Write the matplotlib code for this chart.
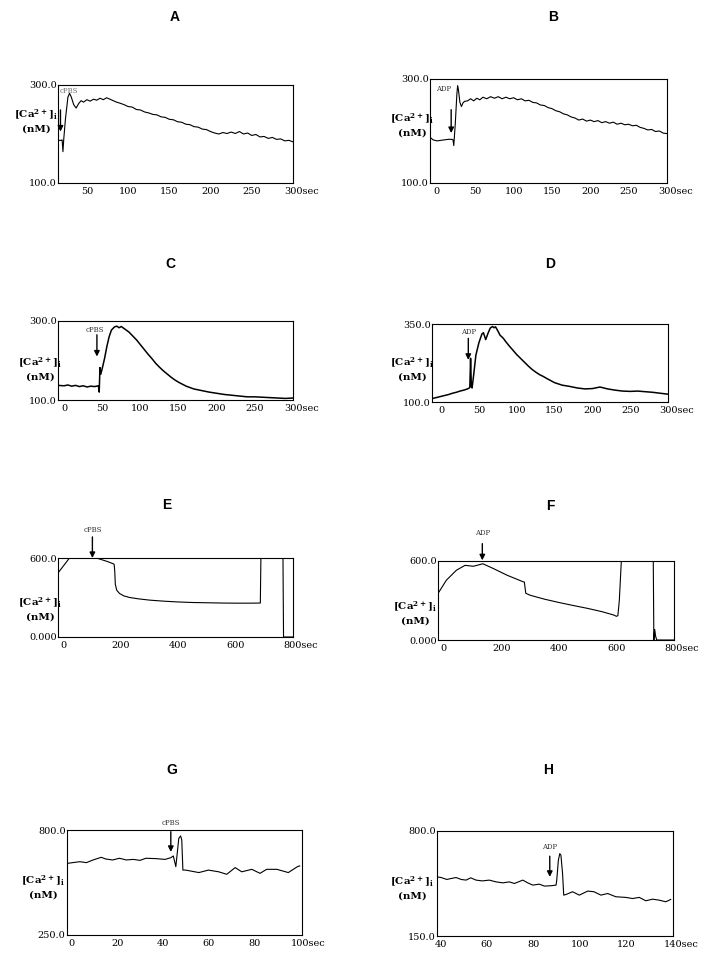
import numpy as np
import matplotlib.pyplot as plt

# datos (tiempo en s, [Ca2+]i en nM)
A_x = [15, 19, 20, 21, 22, 24, 27, 29, 31, 34, 37, 40, 43, 46, 50, 54, 58, 62, 66, 70,
       74, 78, 82, 86, 90, 95, 100, 105, 110, 115, 120, 125, 130, 135, 140, 145, 150, 155,
       160, 165, 170, 175, 180, 185, 190, 195, 200, 205, 210, 215, 220, 225, 230, 235, 240,
       245, 250, 255, 260, 265, 270, 275, 280, 285, 290, 295, 300]
A_y = [187, 187, 188, 164, 190, 230, 275, 283, 276, 260, 253, 262, 268, 265, 270, 267, 271,
       269, 273, 270, 274, 271, 268, 265, 263, 260, 256, 255, 250, 249, 245, 243, 240, 239,
       235, 234, 230, 229, 225, 224, 220, 219, 215, 214, 210, 209, 205, 202, 200, 203, 201,
       204, 201, 205, 200, 202, 197, 199, 194, 195, 191, 193, 189, 190, 186, 187, 184]

B_x = [-9, -5, 0, 5, 10, 15, 19, 21, 22, 24, 26, 27, 28, 30, 32, 34, 36, 40, 44, 48, 52,
       56, 60, 65, 70, 75, 80, 85, 90, 95, 100, 105, 110, 115, 120, 125, 130, 135, 140, 145,
       150, 155, 160, 165, 170, 175, 180, 185, 190, 195, 200, 205, 210, 215, 220, 225, 230,
       235, 240, 245, 250, 255, 260, 265, 270, 275, 280, 285, 290, 295, 300]
B_y = [188, 183, 181, 182, 183, 184, 184, 183, 172, 215, 270, 287, 280, 255, 247, 254, 257,
       258, 262, 258, 263, 260, 265, 262, 266, 263, 266, 262, 265, 262, 264, 260, 262, 258,
       259, 255, 254, 250, 249, 245, 243, 239, 237, 233, 231, 227, 225, 221, 223, 219, 221,
       218, 220, 216, 218, 215, 217, 213, 215, 212, 213, 210, 211, 207, 205, 202, 203, 199,
       200, 196, 195]

C_x = [-8, 0, 5, 10, 15, 20, 25, 30, 35, 40, 45, 46, 47, 48, 50, 53, 56, 59, 62, 66, 69,
       72, 75, 80, 85, 90, 95, 100, 105, 110, 115, 120, 125, 130, 135, 140, 145, 150, 160,
       170, 180, 190, 200, 210, 220, 230, 240, 250, 260, 270, 280, 290, 300]
C_y = [137, 136, 138, 135, 137, 134, 136, 133, 135, 134, 136, 120, 182, 165, 180, 205, 235,
       260, 277, 285, 287, 283, 286, 279, 272, 262, 252, 240, 228, 216, 205, 193, 183, 174,
       166, 158, 151, 145, 135, 128, 124, 120, 117, 114, 112, 110, 108, 108, 107, 106, 105,
       104, 105]

D_x = [-10, -5, 0, 5, 10, 15, 20, 25, 30, 35, 38, 39, 40, 41, 43, 46, 50, 54, 56, 59, 62,
       65, 68, 70, 72, 75, 78, 82, 86, 90, 95, 100, 105, 110, 115, 120, 125, 130, 135, 140,
       150, 160, 170, 180, 190, 200, 210, 220, 230, 240, 250, 260, 270, 280, 290, 300]
D_y = [112, 115, 118, 121, 124, 128, 131, 135, 138, 142, 146, 240, 150, 145, 185, 250, 290,
       318, 322, 300, 320, 337, 342, 338, 341, 328, 314, 305, 292, 280, 266, 252, 240, 228,
       216, 205, 196, 188, 182, 175, 162, 154, 150, 145, 142, 143, 148, 142, 138, 135, 134,
       135, 133, 131, 128, 125]

E_x = [-20, 20, 114, 150, 172, 176, 178, 180, 185, 195, 210, 230, 260, 300, 350, 400, 450,
       500, 550, 600, 650, 686, 688, 690, 760, 765, 767, 780, 800]
E_y = [486, 600, 600, 575, 557, 552, 500, 400, 355, 330, 312, 300, 290, 280, 272, 266, 262,
       260, 258, 257, 257, 258, 600, 600, 600, 600, 0, 0, 0]

F_x = [-20, 9, 44, 74, 103, 136, 173, 220, 276, 280, 285, 300, 350, 400, 450, 500, 550, 590,
       600, 605, 610, 617, 620, 725, 728, 730, 733, 736, 740, 760, 800]
F_y = [353, 454, 530, 567, 560, 579, 542, 492, 442, 440, 355, 340, 310, 285, 262, 240, 215,
       190, 180, 185, 300, 600, 600, 600, 600, 0, 80, 30, 0, 0, 0]

G_x = [-2, 3.6, 6.5, 9.4, 13, 15, 18, 21, 24, 27, 30, 32.6, 37, 41, 43.5, 44.6, 45.7, 47,
       47.8, 48.3, 48.8, 50, 55.8, 60, 64.5, 68, 71.7, 74.6, 79, 82.6, 85.5, 90, 95, 99, 100]
G_y = [625, 634, 629, 643, 657, 648, 643, 652, 643, 646, 641, 652, 650, 646, 655, 664, 608,
       756, 769, 748, 590, 590, 577, 590, 581, 568, 603, 581, 594, 573, 594, 594, 577, 608, 612]

H_x = [38.5, 40.3, 42.7, 44.6, 46.7, 48.9, 51, 53, 55.3, 58, 61, 63.9, 66.8, 69.6, 71.8,
       75.4, 77.5, 79.7, 82.5, 84.7, 87.5, 89.7, 90, 90.7, 91.3, 91.8, 92.5, 93, 94, 96.8,
       99.7, 103.3, 106, 109, 111.9, 115.4, 119.7, 122.6, 125.5, 128.3, 131.2, 134, 136.9, 139]
H_y = [516, 512, 500, 506, 512, 500, 496, 510, 496, 491, 496, 485, 479, 485, 475, 496, 479,
       465, 471, 459, 461, 465, 496, 619, 660, 650, 537, 403, 407, 424, 403, 428, 424, 403,
       413, 393, 389, 382, 389, 368, 378, 372, 362, 376]

letras = ['A', 'B', 'C', 'D', 'E', 'F', 'G', 'H']
xticks_300 = [0, 50, 100, 150, 200, 250, 300]
xticks_800 = [0, 200, 400, 600, 800]
xticks_G = [0, 20, 40, 60, 80, 100]
xticks_H = [40, 60, 80, 100, 120, 140]
estimulo = ['cPBS', 'ADP', 'cPBS', 'ADP', 'cPBS', 'ADP', 'cPBS', 'ADP']
# (x de la flecha, y inicio, y fin, x del texto, y del texto)
flechas = [(18, 249, 205, 17, 296), (18.6, 241, 196, 9, 280), (43, 265, 210, 40, 277),
           (36, 304, 235, 36, 325), (100, 760, 600, 100, 810), (134, 732, 605, 134, 812),
           (43.5, 791, 685, 43.5, 838), (87, 644, 516, 87, 701)]

W, H = 713, 964
fig = plt.figure(figsize=(7.13, 9.64), dpi=100)
plt.rcParams['mathtext.fontset'] = 'dejavuserif'

# cajas en pixeles: izq, der, arriba, abajo
cajas = [(58, 293, 85, 183), (430, 667, 79, 183), (58, 293, 321, 400), (432, 668, 324, 402),
         (58, 293, 558, 637), (438, 674, 561, 640), (67, 302, 830, 935), (437, 673, 831, 936)]
titulos_pos = [(175, 17), (553, 17), (170, 264), (550, 264), (167, 505), (550, 506), (172, 770), (548, 770)]
ylab_pos = [(36, 122), (412, 126), (40, 370), (412, 370), (40, 610), (415, 614), (43, 888), (412, 889)]

datos = [(A_x, A_y), (B_x, B_y), (C_x, C_y), (D_x, D_y), (E_x, E_y), (F_x, F_y), (G_x, G_y), (H_x, H_y)]
xlims = [(15, 300), (-9, 300), (-8, 300), (-12, 300), (-20, 800), (-20, 800), (-2, 101), (38.5, 140)]
ylims = [(100, 300), (100, 300), (100, 300), (100, 350), (0, 600), (0, 600), (250, 800), (150, 800)]
xticks = [xticks_300[1:], xticks_300, xticks_300, xticks_300, xticks_800, xticks_800, xticks_G, xticks_H]

for i in range(8):
    l, r, t, b = cajas[i]
    ax = fig.add_axes([l/W, 1-b/H, (r-l)/W, (b-t)/H])
    x, y = datos[i]
    lw = 1.1 if i in (2, 3) else 0.8
    ax.plot(x, y, color='k', lw=lw)
    ax.set_xlim(xlims[i])
    ax.set_ylim(ylims[i])
    lo, hi = ylims[i]
    xt = xticks[i]
    ax.set_xticks(xt)
    # la ultima etiqueta lleva "sec" pegado, se dibuja aparte
    ax.set_xticklabels([str(v) for v in xt[:-1]] + [''], family='DejaVu Serif', fontsize=7)
    ultimo = str(xt[-1])
    ax.annotate(ultimo + 'sec', xy=(xt[-1], lo), xycoords='data',
                xytext=(-2.2 * len(ultimo), -3), textcoords='offset points',
                ha='left', va='top', fontsize=7, family='DejaVu Serif', annotation_clip=False)
    ax.set_yticks([lo, hi])
    if lo == 0:
        ylab = ['0.000', '%.1f' % hi]
    else:
        ylab = ['%.1f' % lo, '%.1f' % hi]
    ax.set_yticklabels(ylab, family='DejaVu Serif', fontsize=7)
    ax.tick_params(length=0, pad=3)
    ax.tick_params(axis='y', pad=1)
    for s in ax.spines.values():
        s.set_linewidth(0.8)
    fx, y0, y1, tx_, ty_ = flechas[i]
    ax.annotate('', xy=(fx, y1), xytext=(fx, y0), annotation_clip=False,
                arrowprops=dict(arrowstyle='-|>', color='k', lw=1, mutation_scale=8, shrinkA=0, shrinkB=0))
    if i == 0:
        ax.text(tx_, ty_, estimulo[i], fontsize=5, color='0.45', family='DejaVu Serif', va='top')
    else:
        ax.text(tx_, ty_, estimulo[i], fontsize=5, color='0.2', family='DejaVu Serif', ha='center', va='center')
    tx, ty = titulos_pos[i]
    fig.text(tx/W, 1-ty/H, letras[i], fontsize=10, fontweight='bold', family='Liberation Sans',
             ha='center', va='center')
    lx, ly = ylab_pos[i]
    fig.text(lx/W, 1-(ly-7)/H, r'[Ca$^{\mathbf{2+}}$]$_{\mathbf{i}}$', fontsize=7.5, fontweight='bold',
             family='DejaVu Serif', ha='center', va='center')
    fig.text(lx/W, 1-(ly+7)/H, '(nM)', fontsize=7.5, fontweight='bold', family='DejaVu Serif',
             ha='center', va='center')

plt.savefig('out.png', dpi=100)
